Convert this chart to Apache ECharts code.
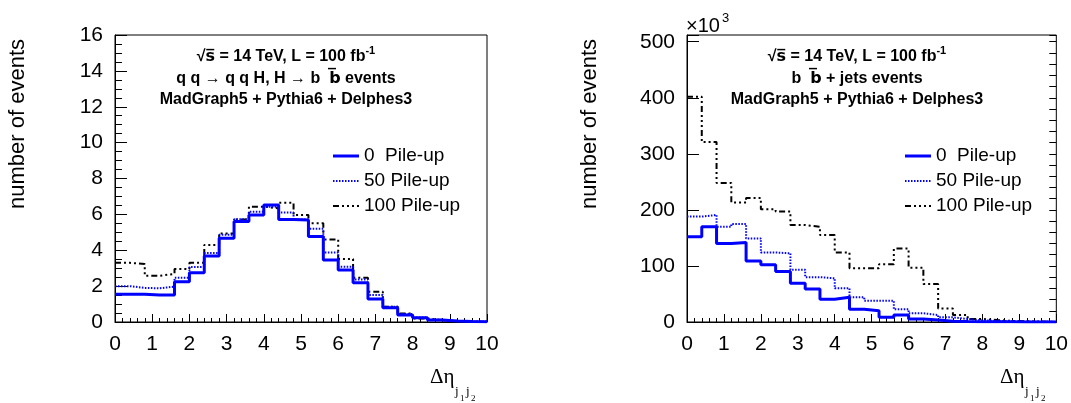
<!DOCTYPE html>
<html>
<head>
<meta charset="utf-8">
<script src="https://cdn.jsdelivr.net/npm/echarts@6/dist/echarts.min.js"></script>
<style>
html,body{margin:0;padding:0;background:#fff;}
#chart{width:1071px;height:403px;}
</style>
</head>
<body>
<div id="chart"></div>
<script>
// Bin edges of Δη(j1,j2) histograms (bin width 0.4)
const binEdges = [0,0.4,0.8,1.2,1.6,2.0,2.4,2.8,3.2,3.6,4.0,4.4,4.8,5.2,5.6,6.0,6.4,6.8,7.2,7.6,8.0,8.4,8.8,9.2,9.6,10];
const seriesNames = ['0  Pile-up','50 Pile-up','100 Pile-up'];

// Left panel: q q -> q q H, H -> b bbar (number of events)
const sigPU0   = [1.55,1.55,1.5,1.5,2.25,2.75,3.68,4.67,5.6,5.97,6.52,5.72,5.68,4.76,3.46,2.9,2.19,1.28,0.8,0.39,0.24,0.11,0.06,0.03,0.02];
const sigPU50  = [2.0,1.9,1.88,1.97,2.47,3.07,3.85,4.87,5.73,6.15,6.43,6.1,5.72,5.2,3.87,3.08,2.37,1.5,0.85,0.45,0.25,0.12,0.06,0.03,0.02];
const sigPU100 = [3.3,3.23,2.58,2.68,2.95,3.3,4.29,4.94,5.72,6.43,6.34,6.65,5.97,5.5,4.6,3.51,2.47,1.69,0.85,0.48,0.2,0.1,0.05,0.03,0.02];

// Right panel: b bbar + jets (number of events, x10^3)
const bkgPU0   = [152,170,140,142,109,102,90,69,59,40.5,44,22.6,20.2,8.3,12.5,5.4,3.6,1.5,1,0.6,0.4,0.3,0.2,0.1,0.1];
const bkgPU50  = [188,191,170,175,149,124,122.6,93,80,78,60,44,38,38,22.6,15.5,12.5,8.3,5.4,3,2,1.2,0.8,0.5,0.3];
const bkgPU100 = [402,321,248,213,221,201,197,173,170,155,124,96,96,103,131,97,68,24,12.5,5.4,3.6,2,1.2,0.8,0.5];

const xTicks = [0,1,2,3,4,5,6,7,8,9,10];

function histData(vals){
  const d = vals.map((v,i)=>[binEdges[i], v]);
  d.push([binEdges[binEdges.length-1], vals[vals.length-1]]);
  return d;
}

const FONT = 'Liberation Sans, Arial, Helvetica, sans-serif';
const styles = [
  {color:'#0000ff', width:3, type:'solid', dash:null},
  {color:'#0000ff', width:2, type:[1.5,1.5], dash:[1.5,1.5]},
  {color:'#000000', width:2, type:[6,3,2,3,2,3,2,3], dash:[6,3,2,3,2,3,2,3]}
];

function xAxis(gi){
  return {
    type:'value', gridIndex:gi, min:xTicks[0], max:xTicks[xTicks.length-1], interval:1,
    axisLine:{show:true, onZero:false, lineStyle:{color:'#000', width:1}},
    axisTick:{show:true, inside:true, length:8, lineStyle:{color:'#000', width:1}},
    minorTick:{show:true, splitNumber:5, length:4, lineStyle:{color:'#000', width:1}},
    axisLabel:{color:'#000', fontSize:21, fontFamily:FONT, margin:12},
    splitLine:{show:false}, minorSplitLine:{show:false}
  };
}

function mkSeries(vals, k, gi, yi){
  return {
    type:'line', name:seriesNames[k], xAxisIndex:gi, yAxisIndex:yi,
    step:'end', symbol:'none', showSymbol:false, silent:true,
    data:histData(vals),
    lineStyle:{color:styles[k].color, width:styles[k].width, type:styles[k].type},
    itemStyle:{color:styles[k].color},
    z: 3 + (2-k)
  };
}

const chart = echarts.init(document.getElementById('chart'), null, {renderer:'canvas'});

const rich = {
  b:{fontSize:16, fontWeight:'bold', fontFamily:FONT, color:'#000', lineHeight:20, verticalAlign:'bottom'},
  o:{fontSize:16, fontWeight:'bold', fontFamily:'DejaVu Sans', color:'#000', lineHeight:20, verticalAlign:'bottom'},
  sup:{fontSize:11, fontWeight:'bold', fontFamily:FONT, color:'#000', lineHeight:11, verticalAlign:'top'}
};

function annot(cx, lines){
  const ys = [55, 77, 98];
  return lines.map((t,i)=>({
    type:'text', x:cx, y:ys[i], silent:true,
    style:{text:t, rich:rich, align:'center', verticalAlign:'middle', textAlign:'center', textVerticalAlign:'middle'}
  }));
}

function legendBox(x0){
  const ys = [156, 181, 206];
  const els = [];
  seriesNames.forEach((n,k)=>{
    els.push({type:'line', silent:true, shape:{x1:x0, y1:ys[k], x2:x0+26, y2:ys[k]},
      style:{stroke:styles[k].color, lineWidth:styles[k].width, lineDash:styles[k].dash}});
    els.push({type:'text', x:x0+31, y:ys[k], silent:true,
      style:{text:n, fontSize:19, fontFamily:FONT, fill:'#000', textAlign:'left', textVerticalAlign:'middle'}});
  });
  return els;
}

function xTitle(x0){
  return [
    {type:'text', x:x0, y:377, silent:true, style:{text:'Δη', fontSize:21, fontFamily:'Liberation Serif, DejaVu Serif, serif', fill:'#000', textAlign:'left', textVerticalAlign:'middle'}},
    {type:'text', x:x0+25, y:392, silent:true, style:{text:'j', fontSize:13, fontFamily:'Liberation Serif, serif', fill:'#000', textAlign:'left', textVerticalAlign:'middle'}},
    {type:'text', x:x0+30, y:399, silent:true, style:{text:'1', fontSize:9, fontFamily:'Liberation Serif, serif', fill:'#000', textAlign:'left', textVerticalAlign:'middle'}},
    {type:'text', x:x0+36, y:392, silent:true, style:{text:'j', fontSize:13, fontFamily:'Liberation Serif, serif', fill:'#000', textAlign:'left', textVerticalAlign:'middle'}},
    {type:'text', x:x0+41, y:399, silent:true, style:{text:'2', fontSize:9, fontFamily:'Liberation Serif, serif', fill:'#000', textAlign:'left', textVerticalAlign:'middle'}}
  ];
}

function yTitle(x){
  return {type:'text', x:x, y:39, rotation:Math.PI/2, silent:true,
    style:{text:'number of events', fontSize:22, fontFamily:FONT, fill:'#000', textAlign:'right', textVerticalAlign:'middle'}};
}

const option = {
  animation:false,
  backgroundColor:'#fff',
  grid:[
    {left:115, top:35, width:372, height:287, show:true, borderColor:'#000', borderWidth:1, backgroundColor:'transparent'},
    {left:687, top:35, width:371, height:287, show:true, borderColor:'#000', borderWidth:1, backgroundColor:'transparent'}
  ],
  xAxis:[xAxis(0), xAxis(1)],
  yAxis:[
    {type:'value', gridIndex:0, min:0, max:16, interval:2,
     axisLine:{show:true, lineStyle:{color:'#000', width:1}},
     axisTick:{show:true, inside:true, length:12, lineStyle:{color:'#000', width:1}},
     minorTick:{show:true, splitNumber:4, length:7, lineStyle:{color:'#000', width:1}},
     axisLabel:{color:'#000', fontSize:21, fontFamily:FONT, margin:12},
     splitLine:{show:false}, minorSplitLine:{show:false}},
    {type:'value', gridIndex:1, min:0, max:512, interval:100,
     axisLine:{show:true, lineStyle:{color:'#000', width:1}},
     axisTick:{show:true, inside:true, length:12, lineStyle:{color:'#000', width:1}},
     minorTick:{show:false},
     axisLabel:{color:'#000', fontSize:21, fontFamily:FONT, margin:12, formatter:v => (v % 100 === 0 ? String(v) : '')},
     splitLine:{show:false}},
    {type:'value', gridIndex:1, min:0, max:512, interval:20,
     axisLine:{show:false},
     axisTick:{show:true, inside:true, length:7, lineStyle:{color:'#000', width:1}},
     axisLabel:{show:false},
     splitLine:{show:false}}
  ],
  series:[
    mkSeries(sigPU0,0,0,0), mkSeries(sigPU50,1,0,0), mkSeries(sigPU100,2,0,0),
    mkSeries(bkgPU0,0,1,1), mkSeries(bkgPU50,1,1,1), mkSeries(bkgPU100,2,1,1)
  ],
  graphic:[].concat(
    annot(286, [
      '{b|√}{o|s\u0305}{b| = 14 TeV, L = 100 fb}{sup|-1}',
      '{b|q q → q q H, H → b  }{o|b\u0305}{b| events}',
      '{b|MadGraph5 + Pythia6 + Delphes3}'
    ]),
    annot(857, [
      '{b|√}{o|s\u0305}{b| = 14 TeV, L = 100 fb}{sup|-1}',
      '{b|b  }{o|b\u0305}{b| + jets events}',
      '{b|MadGraph5 + Pythia6 + Delphes3}'
    ]),
    legendBox(333), legendBox(905),
    xTitle(430), xTitle(1000),
    [yTitle(18), yTitle(590),
     {type:'text', x:686, y:26, silent:true, style:{text:'×10', fontSize:20, fontFamily:FONT, fill:'#000', textAlign:'left', textVerticalAlign:'middle'}},
     {type:'text', x:722, y:18, silent:true, style:{text:'3', fontSize:13, fontFamily:FONT, fill:'#000', textAlign:'left', textVerticalAlign:'middle'}}]
  )
};
chart.setOption(option);
</script>
</body>
</html>
